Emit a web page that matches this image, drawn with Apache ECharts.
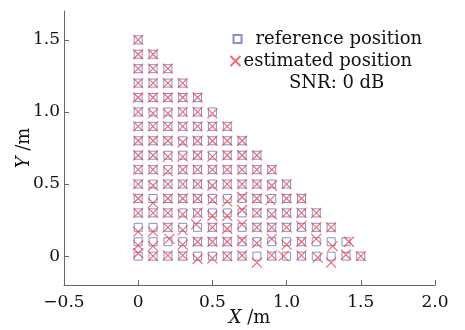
<!DOCTYPE html>
<html>
<head>
<meta charset="utf-8">
<script src="https://cdn.jsdelivr.net/npm/echarts@6/dist/echarts.min.js"></script>
<style>
  html, body { margin: 0; padding: 0; background: #fff; }
  #main { width: 465px; height: 330px; }
</style>
</head>
<body>
<div id="main"></div>
<script>
// reference grid positions, row by row from Y = 0 upward
const refPoints = [
  [0, 0], [0.1, 0], [0.2, 0], [0.3, 0], [0.4, 0], [0.5, 0], [0.6, 0], [0.7, 0], [0.8, 0], [0.9, 0], [1.0, 0], [1.1, 0], [1.2, 0], [1.3, 0], [1.4, 0], [1.5, 0],
  [0, 0.1], [0.1, 0.1], [0.2, 0.1], [0.3, 0.1], [0.4, 0.1], [0.5, 0.1], [0.6, 0.1], [0.7, 0.1], [0.8, 0.1], [0.9, 0.1], [1.0, 0.1], [1.1, 0.1], [1.2, 0.1], [1.3, 0.1], [1.4, 0.1],
  [0, 0.2], [0.1, 0.2], [0.2, 0.2], [0.3, 0.2], [0.4, 0.2], [0.5, 0.2], [0.6, 0.2], [0.7, 0.2], [0.8, 0.2], [0.9, 0.2], [1.0, 0.2], [1.1, 0.2], [1.2, 0.2], [1.3, 0.2],
  [0, 0.3], [0.1, 0.3], [0.2, 0.3], [0.3, 0.3], [0.4, 0.3], [0.5, 0.3], [0.6, 0.3], [0.7, 0.3], [0.8, 0.3], [0.9, 0.3], [1.0, 0.3], [1.1, 0.3], [1.2, 0.3],
  [0, 0.4], [0.1, 0.4], [0.2, 0.4], [0.3, 0.4], [0.4, 0.4], [0.5, 0.4], [0.6, 0.4], [0.7, 0.4], [0.8, 0.4], [0.9, 0.4], [1.0, 0.4], [1.1, 0.4],
  [0, 0.5], [0.1, 0.5], [0.2, 0.5], [0.3, 0.5], [0.4, 0.5], [0.5, 0.5], [0.6, 0.5], [0.7, 0.5], [0.8, 0.5], [0.9, 0.5], [1.0, 0.5],
  [0, 0.6], [0.1, 0.6], [0.2, 0.6], [0.3, 0.6], [0.4, 0.6], [0.5, 0.6], [0.6, 0.6], [0.7, 0.6], [0.8, 0.6], [0.9, 0.6],
  [0, 0.7], [0.1, 0.7], [0.2, 0.7], [0.3, 0.7], [0.4, 0.7], [0.5, 0.7], [0.6, 0.7], [0.7, 0.7], [0.8, 0.7],
  [0, 0.8], [0.1, 0.8], [0.2, 0.8], [0.3, 0.8], [0.4, 0.8], [0.5, 0.8], [0.6, 0.8], [0.7, 0.8],
  [0, 0.9], [0.1, 0.9], [0.2, 0.9], [0.3, 0.9], [0.4, 0.9], [0.5, 0.9], [0.6, 0.9],
  [0, 1.0], [0.1, 1.0], [0.2, 1.0], [0.3, 1.0], [0.4, 1.0], [0.5, 1.0],
  [0, 1.1], [0.1, 1.1], [0.2, 1.1], [0.3, 1.1], [0.4, 1.1],
  [0, 1.2], [0.1, 1.2], [0.2, 1.2], [0.3, 1.2],
  [0, 1.3], [0.1, 1.3], [0.2, 1.3],
  [0, 1.4], [0.1, 1.4],
  [0, 1.5],
];

// estimated positions (same order)
const estPoints = [
  [0, 0.02], [0.1, 0], [0.2, 0.005], [0.3, 0.005], [0.4, -0.02], [0.5, -0.015], [0.6, 0], [0.7, 0.005], [0.8, -0.045], [0.9, 0.005], [0.98, 0], [1.1, 0.005], [1.21, -0.01], [1.3, -0.045], [1.4, 0.01], [1.5, 0],
  [0, 0.075], [0.1, 0.07], [0.21, 0.12], [0.3, 0.08], [0.4, 0.1], [0.5, 0.1], [0.6, 0.1], [0.7, 0.11], [0.8, 0.09], [0.9, 0.12], [1.0, 0.08], [1.1, 0.1], [1.2, 0.12], [1.31, 0.07], [1.42, 0.1],
  [0, 0.17], [0.1, 0.17], [0.2, 0.2], [0.3, 0.18], [0.39, 0.22], [0.5, 0.2], [0.6, 0.19], [0.7, 0.22], [0.8, 0.2], [0.9, 0.2], [1.0, 0.2], [1.1, 0.21], [1.2, 0.2], [1.3, 0.2],
  [0, 0.3], [0.1, 0.3], [0.2, 0.3], [0.3, 0.29], [0.4, 0.3], [0.5, 0.28], [0.6, 0.28], [0.7, 0.32], [0.8, 0.3], [0.9, 0.29], [1.0, 0.3], [1.1, 0.3], [1.2, 0.3],
  [0, 0.4], [0.1, 0.37], [0.2, 0.4], [0.3, 0.4], [0.4, 0.4], [0.5, 0.39], [0.6, 0.38], [0.7, 0.41], [0.8, 0.4], [0.89, 0.39], [1.0, 0.4], [1.1, 0.4],
  [0, 0.5], [0.1, 0.49], [0.2, 0.5], [0.3, 0.5], [0.4, 0.5], [0.5, 0.49], [0.6, 0.5], [0.7, 0.5], [0.8, 0.5], [0.9, 0.49], [1.0, 0.5],
  [0, 0.6], [0.1, 0.6], [0.2, 0.59], [0.3, 0.6], [0.4, 0.6], [0.5, 0.6], [0.6, 0.6], [0.7, 0.6], [0.8, 0.6], [0.9, 0.6],
  [0, 0.7], [0.1, 0.7], [0.2, 0.69], [0.3, 0.69], [0.4, 0.7], [0.5, 0.69], [0.6, 0.7], [0.7, 0.7], [0.8, 0.7],
  [0, 0.8], [0.1, 0.8], [0.2, 0.8], [0.3, 0.79], [0.4, 0.8], [0.5, 0.8], [0.6, 0.8], [0.7, 0.8],
  [0, 0.9], [0.1, 0.9], [0.2, 0.9], [0.3, 0.9], [0.4, 0.9], [0.5, 0.9], [0.6, 0.9],
  [0, 1.0], [0.1, 0.99], [0.2, 0.99], [0.3, 1.0], [0.4, 1.0], [0.5, 0.99],
  [0, 1.1], [0.1, 1.1], [0.2, 1.1], [0.3, 1.1], [0.4, 1.1],
  [0, 1.2], [0.1, 1.2], [0.2, 1.2], [0.3, 1.2],
  [0, 1.3], [0.1, 1.3], [0.2, 1.3],
  [0, 1.4], [0.1, 1.4],
  [0, 1.5],
];

const yTicks = [0, 0.5, 1.0, 1.5];
const seriesNames = ['reference position', 'estimated position'];
const noteText = 'SNR: 0 dB';

const FONT = 'DejaVu Serif';
const AXIS_COLOR = '#666';
const REF_COLOR = '#6c70c6';
const EST_COLOR = '#e6474f';

const fmt = (v) => {
  if (v === 0) return '0';
  const s = Math.abs(v).toFixed(1);
  return v < 0 ? '\u2212' + s : s;
};

const myChart = echarts.init(document.getElementById('main'), null, { renderer: 'canvas' });

myChart.setOption({
  animation : false,
  grid      : { left: 64, right: 30, top: 11, bottom: 45, outerBoundsMode: 'none', containLabel: false },
  legend    : [
    {
      data      : [seriesNames[0]],
      left      : 226,
      top       : 25,
      itemWidth : 8,
      itemHeight: 8,
      textStyle : { fontFamily: FONT, fontSize: 18, color: '#111', padding: [0, 0, 0, 9] },
    },
    {
      data      : [seriesNames[1]],
      left      : 223,
      top       : 47,
      itemWidth : 10,
      itemHeight: 10,
      textStyle : { fontFamily: FONT, fontSize: 18, color: '#111', padding: [0, 0, 0, -2] },
    },
  ],
  graphic: [{
    type  : 'text',
    left  : 289,
    top   : 74,
    style : { text: noteText, font: '18px "DejaVu Serif"', fill: '#111' },
  }],
  xAxis: {
    type     : 'value',
    min      : -0.5,
    max      : 2.0,
    interval : 0.5,
    name     : '{i|X} /m',
    nameLocation : 'middle',
    nameGap  : 24,
    nameMoveOverlap: false,
    nameTextStyle: {
      fontFamily: FONT, fontSize: 18, color: '#111',
      rich: { i: { fontFamily: FONT, fontStyle: 'italic', fontSize: 18, color: '#111' } },
    },
    axisLine  : { onZero: false, lineStyle: { color: AXIS_COLOR, width: 1 } },
    axisTick  : { inside: true, length: 5, lineStyle: { color: AXIS_COLOR } },
    axisLabel : { fontFamily: FONT, fontSize: 17, color: '#111', margin: 9, formatter: fmt },
    splitLine : { show: false },
  },
  yAxis: {
    type     : 'value',
    min      : -0.2,
    max      : 1.7,
    name     : '{i|Y} /m',
    nameLocation : 'middle',
    nameGap  : 31,
    nameMoveOverlap: false,
    nameTextStyle: {
      fontFamily: FONT, fontSize: 18, color: '#111',
      rich: { i: { fontFamily: FONT, fontStyle: 'italic', fontSize: 18, color: '#111' } },
    },
    axisLine  : { onZero: false, lineStyle: { color: AXIS_COLOR, width: 1 } },
    axisTick  : { inside: true, length: 5, customValues: yTicks, lineStyle: { color: AXIS_COLOR } },
    axisLabel : { fontFamily: FONT, fontSize: 17, color: '#111', margin: 4, customValues: yTicks, formatter: fmt },
    splitLine : { show: false },
  },
  series: [
    {
      name       : seriesNames[0],
      type       : 'scatter',
      symbol     : 'rect',
      symbolSize : 8,
      itemStyle  : { color: 'none', borderColor: REF_COLOR, borderWidth: 1 },
      data       : refPoints,
      z          : 2,
    },
    {
      name       : seriesNames[1],
      type       : 'scatter',
      symbol     : 'path://M0,0L10,10M10,0L0,10',
      symbolSize : 10,
      itemStyle  : { color: 'none', borderColor: EST_COLOR, borderWidth: 1.2 },
      data       : estPoints,
      z          : 3,
    },
  ],
});
</script>
</body>
</html>
